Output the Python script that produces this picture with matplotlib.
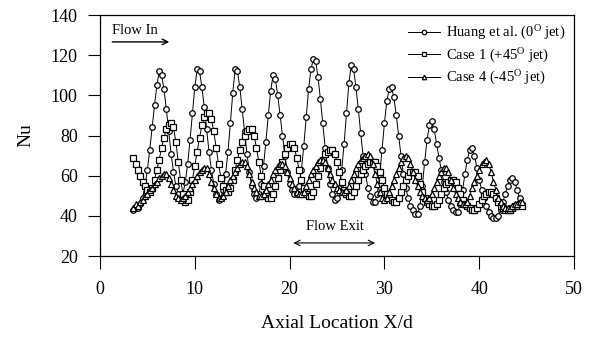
import numpy as np
import matplotlib
matplotlib.use("Agg")
import matplotlib.pyplot as plt

plt.rcParams['font.family'] = ['Liberation Serif', 'DejaVu Serif']
plt.rcParams['mathtext.fontset'] = 'custom'
plt.rcParams['mathtext.rm'] = 'Liberation Serif'
plt.rcParams['mathtext.it'] = 'Liberation Serif:italic'

# Axial stations X/d: start and spacing of the measurement grid
x_start = 3.5
x_step = 0.25

huang_nu = [
    43, 44, 44, 46,
    49, 55, 63, 73,
    84, 95, 105, 112,
    110, 103, 93, 82,
    71, 62, 55, 51,
    49, 51, 57, 66,
    78, 91, 104, 113,
    112, 104, 94, 83,
    72, 63, 56, 51,
    48, 49, 53, 61,
    72, 86, 101, 113,
    112, 104, 93, 82,
    71, 62, 55, 51,
    49, 51, 56, 65,
    77, 90, 102, 110,
    108, 100, 90, 80,
    70, 62, 56, 53,
    51, 51, 55, 63,
    75, 89, 103, 113,
    118, 117, 109, 98,
    86, 74, 64, 56,
    51, 48, 49, 54,
    63, 76, 91, 106,
    115, 113, 104, 93,
    81, 70, 61, 54,
    50, 47, 47, 51,
    60, 73, 86, 97,
    103, 104, 99, 90,
    80, 70, 61, 54,
    49, 45, 43, 41,
    41, 45, 55, 67,
    78, 85, 87, 83,
    76, 69, 63, 57,
    52, 48, 45, 43,
    42, 42, 46, 53,
    61, 68, 73, 74,
    70, 64, 58, 53,
    49, 45, 42, 40,
    39, 39, 40, 43,
    47, 51, 55, 58,
    59, 57, 53, 49,
    46,
]

case1_nu = [
    69, 66, 63, 60,
    57, 55, 53, 52,
    54, 58, 63, 68,
    74, 79, 83, 85,
    86, 84, 77, 67,
    58, 51, 47, 48,
    52, 58, 65, 72,
    79, 85, 89, 91,
    91, 88, 82, 74,
    66, 59, 55, 53,
    52, 54, 58, 63,
    68, 73, 77, 80,
    82, 83, 83, 80,
    74, 67, 60, 55,
    51, 49, 49, 51,
    55, 59, 63, 67,
    71, 74, 76, 76,
    74, 69, 63, 58,
    54, 51, 50, 50,
    52, 56, 60, 64,
    68, 71, 72, 73,
    73, 71, 67, 62,
    57, 53, 51, 50,
    50, 52, 55, 58,
    61, 63, 65, 66,
    67, 67, 67, 65,
    62, 58, 54, 51,
    49, 48, 47, 47,
    49, 52, 55, 58,
    60, 62, 62, 62,
    60, 56, 52, 49,
    47, 46, 45, 45,
    46, 48, 51, 54,
    56, 57, 58, 58,
    57, 54, 51, 48,
    46, 45, 44, 43,
    43, 44, 46, 48,
    50, 51, 52, 52,
    51, 49, 47, 45,
    44, 43, 43, 43,
    44, 45, 45, 46,
    45,
]

case4_nu = [
    44, 46, 45, 47,
    48, 50, 51, 53,
    54, 56, 57, 59,
    60, 61, 61, 59,
    56, 53, 50, 49,
    48, 49, 50, 52,
    54, 56, 58, 60,
    62, 63, 64, 64,
    61, 57, 54, 51,
    49, 49, 50, 52,
    55, 58, 60, 62,
    64, 66, 67, 67,
    65, 61, 57, 54,
    52, 50, 50, 51,
    53, 56, 58, 61,
    63, 65, 66, 66,
    65, 62, 59, 56,
    54, 52, 51, 51,
    52, 55, 58, 61,
    63, 65, 67, 68,
    68, 67, 64, 61,
    58, 56, 54, 53,
    52, 52, 53, 55,
    58, 61, 64, 66,
    68, 69, 70, 71,
    70, 66, 61, 56,
    52, 49, 48, 49,
    52, 55, 58, 61,
    64, 67, 69, 70,
    69, 66, 62, 58,
    55, 52, 50, 49,
    48, 49, 51, 54,
    57, 60, 62, 64,
    64, 62, 58, 54,
    51, 49, 47, 46,
    46, 47, 50, 54,
    57, 60, 63, 66,
    67, 68, 66, 62,
    57, 53, 49, 47,
    45, 44, 44, 44,
    45, 46, 46, 47,
    47,
]

series_labels = [r"Huang et al. (0$^{\rm O}$ jet)",
                 r"Case 1 (+45$^{\rm O}$ jet)",
                 r"Case 4 (-45$^{\rm O}$ jet)"]
x_ticks = [0, 10, 20, 30, 40, 50]
y_ticks = [20, 40, 60, 80, 100, 120, 140]

fig = plt.figure(figsize=(5.97, 3.38), dpi=100)
ax = fig.add_axes([0.1675, 0.2426, 0.794, 0.713])

def xs(vals):
    return x_start + x_step * np.arange(len(vals))

common = dict(color='black', lw=0.7, mfc='white', mec='black', mew=0.9)
ax.plot(xs(huang_nu), huang_nu, marker='o', ms=4.0, label=series_labels[0], **common)
ax.plot(xs(case1_nu), case1_nu, marker='s', ms=3.8, label=series_labels[1], **common)
ax.plot(xs(case4_nu), case4_nu, marker='^', ms=4.0, label=series_labels[2], **common)

ax.set_xlim(0, 50)
ax.set_ylim(20, 140)
ax.set_xticks(x_ticks)
ax.set_yticks(y_ticks)
ax.tick_params(direction='out', length=9, width=0.8, labelsize=13, pad=7)
ax.tick_params(axis='x', pad=9)
for s in ax.spines.values():
    s.set_linewidth(0.9)

ax.set_xlabel("Axial Location X/d", fontsize=14, labelpad=12)
ax.set_ylabel("Nu", fontsize=14, labelpad=12)

leg = ax.legend(loc='upper right', frameon=False, fontsize=10.5, handlelength=2.2,
                handletextpad=0.4, labelspacing=0.3, borderaxespad=0.2,
                markerscale=0.8)

# Flow In annotation
ax.text(1.3, 132.5, "Flow In", fontsize=10.5, va='center', ha='left')
ax.annotate("", xy=(7.6, 126.6), xytext=(1.0, 126.6),
            arrowprops=dict(arrowstyle='->', lw=1.0, color='black'))
# Flow Exit annotation
ax.text(21.7, 34.6, "Flow Exit", fontsize=10.5, va='center', ha='left')
ax.annotate("", xy=(29.3, 26.5), xytext=(20.1, 26.5),
            arrowprops=dict(arrowstyle='<->', lw=0.8, color='black'))

fig.savefig("out.png", dpi=100)
